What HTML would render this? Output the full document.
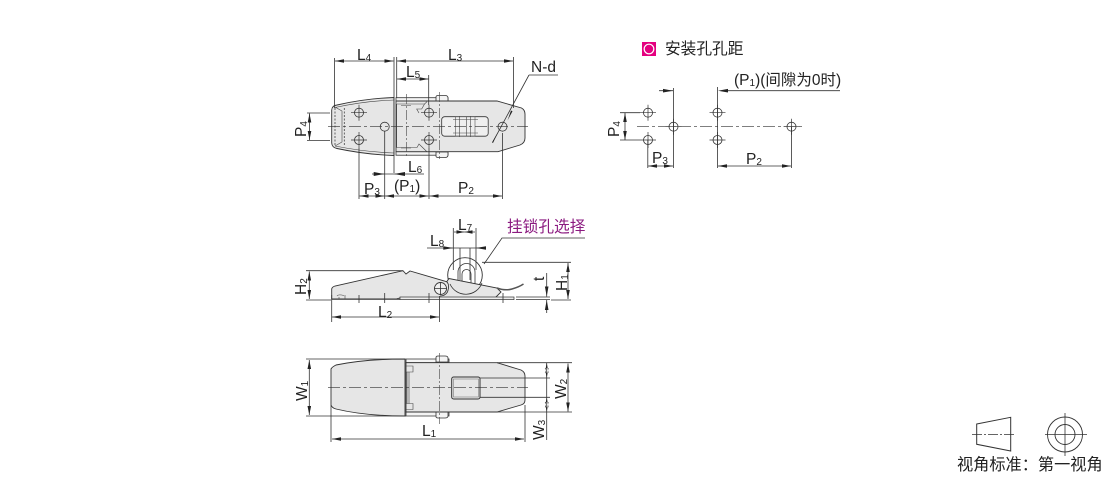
<!DOCTYPE html>
<html><head><meta charset="utf-8"><style>
html,body{margin:0;padding:0;background:#fff;width:1110px;height:477px;overflow:hidden}
svg{display:block;filter:blur(.3px)}
text{font-family:"Liberation Sans","Noto Sans CJK SC",sans-serif;font-size:15.5px;fill:#222}
.s{font-size:10px}
.l{fill:none;stroke:#333;stroke-width:.8}
.t{fill:none;stroke:#444;stroke-width:.6}
.c{fill:none;stroke:#333;stroke-width:.7;stroke-dasharray:12 3 3 3}
.b{fill:#e6e6e6;stroke:#333;stroke-width:.9}
.w{fill:#f4f4f4;stroke:#333;stroke-width:.8}
.d{fill:none;stroke:#333;stroke-width:.8;marker-start:url(#a);marker-end:url(#a)}
</style></head><body>
<svg width="1110" height="477" viewBox="0 0 1110 477" xmlns="http://www.w3.org/2000/svg">
<defs>
<marker id="a" viewBox="0 0 10 4" refX="10" refY="2" markerWidth="10" markerHeight="3.600" markerUnits="userSpaceOnUse" orient="auto-start-reverse"><path d="M0 0L10 2L0 4z" fill="#222"/></marker>
<g id="h"><circle r="4.500" fill="none" stroke="#333" stroke-width=".8"/><path d="M-8 0H8M0-8V8" stroke="#333" stroke-width=".7"/></g>
</defs>

<!-- TOP VIEW -->
<rect class="w" x="396" y="97.700" width="52" height="3.500"/>
<rect class="w" x="396" y="151.700" width="52" height="3.500"/>
<path class="w" d="M436 101V97Q436 95.500 438 95.500H445Q448 95.500 448 98V101ZM436 152V156Q436 157.500 438 157.500H445Q448 157.500 448 155V152Z"/>
<path class="b" d="M396 101H497L521.500 108Q525 110 525 114V138Q525 143 520 145L498 151.700H396Z"/>
<path class="t" d="M396.700 104H424.500L421.700 109H416.700L419 113M424.500 104L427 101.700M396.700 104V147.500H417L419 144L426.700 151.500"/>
<path class="b" d="M331.700 110Q332 105.500 337 105Q365 98.500 394 97.500V155.500Q365 154.500 337 148.500Q332 147.500 331.700 143Z"/>
<path class="t" d="M335 107.500Q365 101 394 100M335 146Q365 152 394 153"/>
<path class="t" d="M335 107L342 111V142L335 146"/>
<path d="M335 108V146M344.300 108V146" stroke="#444" stroke-width=".8" stroke-dasharray="2 1.500" fill="none"/>
<rect x="441.700" y="116.700" width="46.500" height="19.500" rx="3" fill="#efefef" stroke="#333" stroke-width=".8"/>
<rect x="455.700" y="116.700" width="19.300" height="19.500" fill="none" stroke="#555" stroke-width=".6"/>
<path class="t" d="M459.300 116V137M470.700 116V137M466.700 116.700V136"/>
<path class="t" d="M453 119.500H478M453 133H478"/>
<path class="c" d="M328 126.700H528"/>
<use href="#h" x="359" y="112.700"/><use href="#h" x="359" y="140"/>
<use href="#h" x="429" y="112.700"/><use href="#h" x="429" y="140"/>
<circle cx="384.700" cy="126.700" r="4.500" fill="none" stroke="#333" stroke-width=".8"/>
<circle cx="502.500" cy="126.700" r="4.500" fill="none" stroke="#333" stroke-width=".8"/>
<path class="t" d="M406.700 94V158M439.300 92V159" stroke-dasharray="10 2 2 2"/>
<path class="t" d="M401 105.500H411M401 148H411"/>
<!-- top dims -->
<path class="l" d="M334.500 58V108M394 57V173M396.700 57V98M513.500 57V108M396.700 75V98M428.700 75V105"/>
<path class="d" d="M335 61H393.500"/>
<path class="d" d="M397 61H513"/>
<path class="d" d="M397 79H428.500"/>
<path class="l" d="M307 113H330M307 140.500H330"/>
<path class="d" d="M309.500 113.500V140"/>
<path class="l" d="M359 148V199M384.700 131V199M429 148V199M502.500 133V199"/>
<path class="l" d="M372 174H424"/>
<path d="M384.700 174l-11-2v4zM394 174l11-2v4z" fill="#222"/>
<path class="d" d="M359.500 196H384.500"/>
<path class="d" d="M385 196H428.500"/>
<path class="d" d="M429.500 196H502"/>
<path class="l" d="M529 75H558M529 75L493 141.700"/>
<path d="M507.500 120.500l3.500-10 1.500.8zM497.500 133l-4.500 10-1-.6z" fill="#222"/>

<text x="357" y="60">L<tspan class="s" dy="1">4</tspan></text>
<text x="448" y="60">L<tspan class="s" dy="1">3</tspan></text>
<text x="406" y="77">L<tspan class="s" dy="1">5</tspan></text>
<text x="531" y="72">N-d</text>
<text x="408" y="172">L<tspan class="s" dy="1">6</tspan></text>
<text x="364" y="194">P<tspan class="s" dy="1">3</tspan></text>
<text x="394" y="191">(P<tspan class="s" dy="1">1</tspan><tspan dy="-1">)</tspan></text>
<text x="458" y="193">P<tspan class="s" dy="1">2</tspan></text>
<text transform="translate(306 137) rotate(-90)">P<tspan class="s" dy="1">4</tspan></text>

<!-- SIDE VIEW -->
<circle cx="465" cy="275" r="17.300" fill="#fff" stroke="#333" stroke-width=".9"/>
<path class="l" d="M458 290V272a8.500 8.500 0 0 1 17 0V290M462 285V274a4.500 4.500 0 0 1 9 0V286"/>
<path class="b" d="M331.700 299V289Q332 287 335 286L403 270.700L406 274L410 271L446.700 281.700L449 278.500L497 288L501 292L495 298H400L396 299Z"/>
<path d="M446.700 281.700Q450 285 447.500 292Q445 296 440 296" fill="none" stroke="#333" stroke-width=".8"/>
<path d="M450 284A17.300 17.300 0 0 0 482 283" fill="none" stroke="#333" stroke-width=".8"/>
<path d="M497 288Q505 291 512 289Q519 287 523.500 284" fill="none" stroke="#555" stroke-width="1.500"/>
<rect x="400" y="297" width="114" height="2.600" fill="#ececec" stroke="#333" stroke-width=".7"/>
<path class="l" d="M331.700 299.300H400M516 297H550M516 299.600H550"/>
<path class="t" d="M337 296Q338 294 344 295.500M339 299V297M345 295V299"/>
<circle cx="440.500" cy="288.500" r="6" fill="#f0f0f0" stroke="#333" stroke-width=".9"/>
<path class="l" d="M434 288.500H447M440.500 282V295"/>
<path class="l" d="M359 295V303M384.700 293V303M429 293V303M503 293V303"/>
<path class="l" d="M306 270.700H403M482 262.300H571M306 300H331M551 300H571"/>
<path class="d" d="M309.300 271.500V299"/>
<path class="d" d="M568 263V299"/>
<path class="l" d="M546.700 273V296.500M546.700 300V313"/>
<path d="M546.700 296.500l-1.800-10h3.600zM546.700 300l-1.800 10h3.600z" fill="#222"/>
<path class="l" d="M331.700 295V322M439.500 296V322M453.300 228V270M476 228V270M460 248V280M470 248V280"/>
<path class="l" d="M427 248H483"/>
<path d="M453.300 248l-10-1.800v3.600zM476 248l10-1.800v3.600z" fill="#222"/>
<path class="d" d="M332 317H439"/>
<path class="l" d="M454 232H475"/>
<path d="M464.500 232l-8-1.800v3.600zM464.500 232l8-1.800v3.600z" fill="#222"/>
<path class="l" d="M484 264L502 238H585" stroke="#555"/>
<text x="378" y="317">L<tspan class="s" dy="1">2</tspan></text>
<text x="458" y="230">L<tspan class="s" dy="1">7</tspan></text>
<text x="430" y="246">L<tspan class="s" dy="1">8</tspan></text>
<text x="507" y="232" style="fill:#8b1a80;font-size:15.700px">挂锁孔选择</text>
<text transform="translate(306 295) rotate(-90)">H<tspan class="s" dy="1">2</tspan></text>
<text transform="translate(567 291) rotate(-90)">H<tspan class="s" dy="1">1</tspan></text>
<text transform="translate(544 281) rotate(-90)">t</text>

<!-- BOTTOM VIEW -->
<path class="w" d="M406 359H449V362.700H406ZM406 412H449V416H406Z"/>
<path class="w" d="M436 362V357.500Q436 356 438 356H445Q448 356 448 358V362ZM436 412V416.500Q436 418 438 418H445Q448 418 448 416V412Z"/>
<path class="b" d="M406 362.700H497L521 370Q525 372 525 376V400Q525 404 521 405L497 412H406Z"/>
<path class="b" d="M331 369Q332 367 336 365Q365 359 405 359V416Q365 416 336 409Q332 408 331 405Z"/>
<path class="t" d="M405 366H413V372H405M405 403.500H413V409.500H405M407 372V403.500M409 372V403.500"/>
<rect x="451.700" y="377" width="28.300" height="22" rx="2" fill="#e6e6e6" stroke="#333" stroke-width="1"/>
<rect x="453.500" y="379" width="25" height="18" fill="none" stroke="#666" stroke-width=".5"/>
<path class="c" d="M328 387.700H528"/>
<path class="t" d="M439.700 353V424" stroke-dasharray="10 2 2 2"/>
<path class="l" d="M306 359H405M306 416H406M497 362.700H572M497 412H572M480 378H550M480 397.300H550"/>
<path class="d" d="M309.300 360V415"/>
<path class="d" d="M568 363.500V411.500"/>
<path class="l" d="M546.700 363V440"/>
<path d="M546.700 362.700l-1.800 10h3.600zM546.700 378l-1.800-10h3.600zM546.700 397.300l-1.800 10h3.600zM546.700 412l-1.800-10h3.600z" fill="#222"/>
<path class="l" d="M331 405V442M525 405V442"/>
<path class="d" d="M332 439H524"/>
<text transform="translate(307 401) rotate(-90)">W<tspan class="s" dy="1">1</tspan></text>
<text transform="translate(566 399) rotate(-90)">W<tspan class="s" dy="1">2</tspan></text>
<text transform="translate(544 440) rotate(-90)">W<tspan class="s" dy="1">3</tspan></text>
<text x="422" y="436">L<tspan class="s" dy="1">1</tspan></text>

<!-- HOLE PATTERN -->
<rect x="642" y="42" width="14" height="14" fill="#e4007f"/>
<circle cx="649" cy="49" r="4.800" fill="none" stroke="#fff" stroke-width="1.200"/>
<text x="665" y="54" style="font-size:15.700px">安装孔孔距</text>
<text x="734" y="85">(P<tspan class="s" dy="1">1</tspan><tspan dy="-1">)(间隙为0时)</tspan></text>
<path class="l" d="M673.500 88V168M717.500 87V168M791.500 127V168M647.800 140V168"/>
<path class="l" d="M659 90.700H673M724 90.700H840"/>
<path d="M673 90.700l-10-1.800v3.600zM718 90.700l10-1.800v3.600z" fill="#222"/>
<path class="c" d="M637 126.700H805"/>
<path class="l" d="M620 112.700H640M620 140H640"/>
<path class="d" d="M625 113V140"/>
<g><use href="#h" x="648" y="112.700"/><use href="#h" x="648" y="140"/><use href="#h" x="673.500" y="126.700"/><use href="#h" x="717.500" y="112.700"/><use href="#h" x="717.500" y="140"/><use href="#h" x="791.500" y="126.700"/></g>
<path class="d" d="M648 166H673"/>
<path class="d" d="M718 166H791"/>
<text x="652" y="163">P<tspan class="s" dy="1">3</tspan></text>
<text x="746" y="164">P<tspan class="s" dy="1">2</tspan></text>
<text transform="translate(619 137) rotate(-90)">P<tspan class="s" dy="1">4</tspan></text>

<!-- PROJECTION SYMBOL -->
<path d="M976.700 424L1010.700 417.300V451L976.700 444.300Z" fill="none" stroke="#333"/>
<path class="l" d="M972 434.500H1015" stroke-dasharray="10 2 2 2"/>
<circle cx="1065" cy="434.500" r="17.500" fill="none" stroke="#333" stroke-width=".9"/>
<circle cx="1065" cy="434.500" r="10" fill="none" stroke="#333" stroke-width=".9"/>
<path class="l" d="M1045 434.500H1087M1065 413V456"/>
<text x="957" y="470" style="font-size:16.200px">视角标准：第一视角</text>
</svg>
</body></html>
